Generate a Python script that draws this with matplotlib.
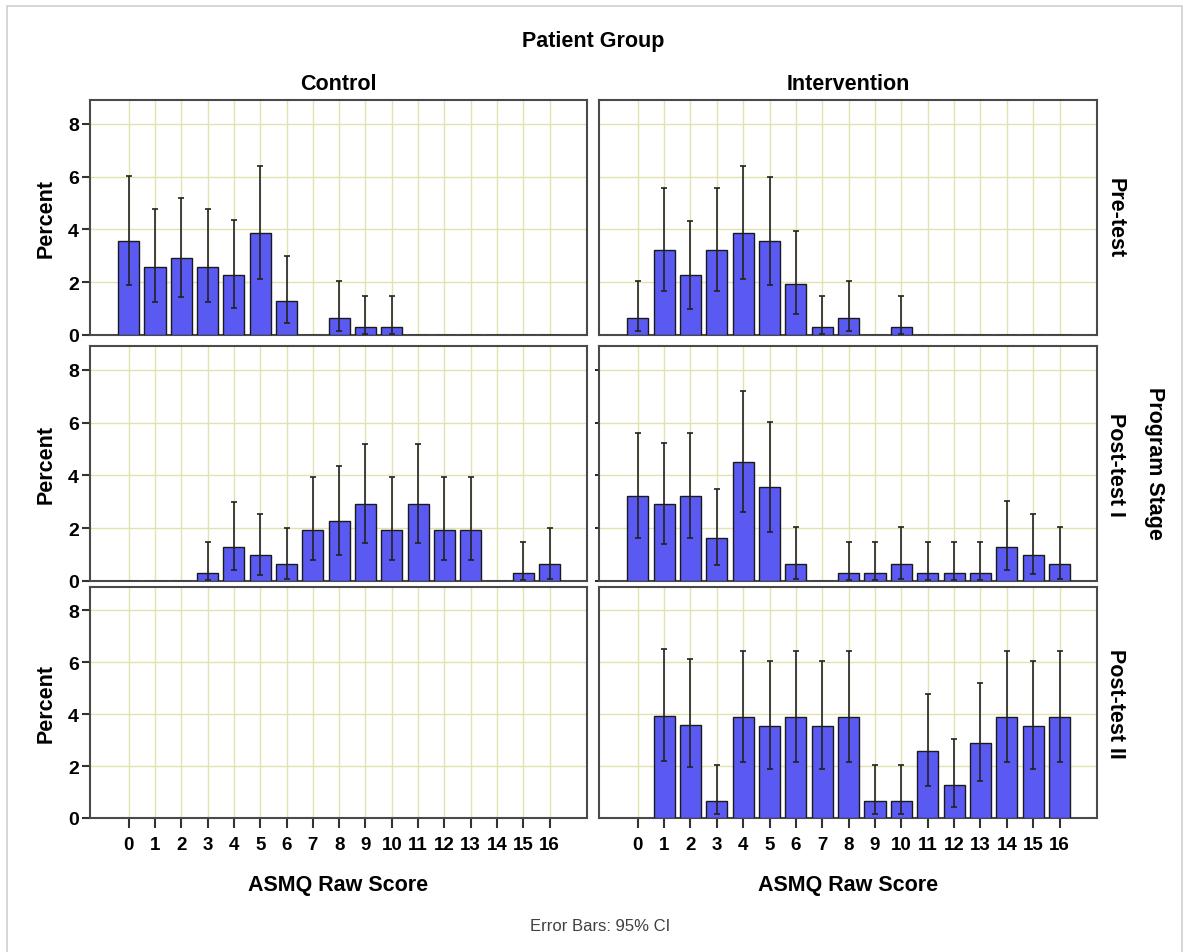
import numpy as np
import matplotlib
matplotlib.use("Agg")
import matplotlib.pyplot as plt
from matplotlib.patches import Rectangle

plt.rcParams['font.family'] = ['Liberation Sans', 'DejaVu Sans']

nan = np.nan
scores = list(range(17))

# Control group
ctrl_pre = [3.55, 2.58, 2.90, 2.58, 2.26, 3.87, 1.29, 0, 0.65, 0.32, 0.32, 0, 0, 0, 0, 0, 0]
ctrl_pre_lo = [1.90, 1.24, 1.43, 1.24, 1.01, 2.11, 0.44, nan, 0.16, 0.03, 0.03, nan, nan, nan, nan, nan, nan]
ctrl_pre_hi = [6.01, 4.78, 5.19, 4.78, 4.34, 6.39, 3.01, nan, 2.03, 1.48, 1.48, nan, nan, nan, nan, nan, nan]

ctrl_p1 = [0, 0, 0, 0.32, 1.29, 0.97, 0.65, 1.94, 2.26, 2.90, 1.94, 2.90, 1.94, 1.94, 0, 0.32, 0.65]
ctrl_p1_lo = [nan, nan, nan, 0.02, 0.40, 0.24, 0.09, 0.79, 0.98, 1.43, 0.79, 1.43, 0.79, 0.79, nan, 0.02, 0.09]
ctrl_p1_hi = [nan, nan, nan, 1.47, 2.98, 2.54, 2.00, 3.92, 4.36, 5.19, 3.92, 5.19, 3.92, 3.92, nan, 1.47, 2.00]

ctrl_p2 = [nan] * 17
ctrl_p2_lo = [nan] * 17
ctrl_p2_hi = [nan] * 17

# Intervention group
int_pre = [0.65, 3.23, 2.26, 3.23, 3.87, 3.55, 1.94, 0.32, 0.65, 0, 0.32, 0, 0, 0, 0, 0, 0]
int_pre_lo = [0.16, 1.67, 0.99, 1.67, 2.11, 1.90, 0.80, 0.03, 0.16, nan, 0.03, nan, nan, nan, nan, nan, nan]
int_pre_hi = [2.03, 5.57, 4.33, 5.57, 6.39, 5.99, 3.92, 1.46, 2.03, nan, 1.46, nan, nan, nan, nan, nan, nan]

int_p1 = [3.23, 2.90, 3.23, 1.61, 4.52, 3.55, 0.65, 0, 0.32, 0.32, 0.65, 0.32, 0.32, 0.32, 1.29, 0.97, 0.65]
int_p1_lo = [1.64, 1.42, 1.64, 0.60, 2.61, 1.84, 0.09, nan, 0.03, 0.03, 0.09, 0.03, 0.03, 0.03, 0.41, 0.28, 0.09]
int_p1_hi = [5.62, 5.22, 5.62, 3.49, 7.21, 6.04, 2.04, nan, 1.49, 1.49, 2.04, 1.49, 1.49, 1.49, 3.02, 2.54, 2.04]

int_p2 = [nan, 3.92, 3.60, 0.65, 3.89, 3.55, 3.89, 3.55, 3.89, 0.65, 0.65, 2.59, 1.29, 2.90, 3.89, 3.55, 3.89]
int_p2_lo = [nan, 2.20, 1.97, 0.17, 2.14, 1.89, 2.14, 1.89, 2.14, 0.17, 0.17, 1.22, 0.42, 1.44, 2.14, 1.89, 2.14]
int_p2_hi = [nan, 6.51, 6.11, 2.05, 6.45, 6.05, 6.45, 6.05, 6.45, 2.05, 2.05, 4.79, 3.03, 5.20, 6.45, 6.05, 6.45]

groups = ["Control", "Intervention"]
stages = ["Pre-test", "Post-test I", "Post-test II"]
panels = [
    [(ctrl_pre, ctrl_pre_lo, ctrl_pre_hi), (int_pre, int_pre_lo, int_pre_hi)],
    [(ctrl_p1, ctrl_p1_lo, ctrl_p1_hi), (int_p1, int_p1_lo, int_p1_hi)],
    [(ctrl_p2, ctrl_p2_lo, ctrl_p2_hi), (int_p2, int_p2_lo, int_p2_hi)],
]

W, H = 1190, 953
fig = plt.figure(figsize=(W / 100, H / 100), dpi=100)

# pixel boxes (left, right) and (top, bottom)
cols = [(90, 587), (599, 1097)]
rows = [(101, 336), (347, 582), (588, 819)]

bar_col = '#5a5af2'
grid_col = '#e2e2b0'
frame_col = '#4a4a4a'

for r, (top, bot) in enumerate(rows):
    for c, (left, right) in enumerate(cols):
        ax = fig.add_axes([left / W, 1 - bot / H, (right - left) / W, (bot - top) / H])
        vals, lo, hi = panels[r][c]
        vals = np.array(vals, dtype=float)
        lo = np.array(lo, dtype=float)
        hi = np.array(hi, dtype=float)
        x = np.array(scores)
        ok = ~np.isnan(vals)
        ax.bar(x[ok], vals[ok], width=0.8, color=bar_col, edgecolor='#1a1a1a',
               linewidth=1.0, zorder=3)
        eb = ~np.isnan(lo)
        ax.errorbar(x[eb], vals[eb], yerr=[vals[eb] - lo[eb], hi[eb] - vals[eb]],
                    fmt='none', ecolor='#222222', elinewidth=1.2, capsize=2.5,
                    capthick=1.2, zorder=4)
        ax.set_xlim(-1.47, 17.42)
        ax.set_ylim(0, 8.9)
        ax.set_xticks(scores)
        ax.set_yticks([0, 2, 4, 6, 8])
        ax.grid(True, color=grid_col, linewidth=1.0, zorder=0)
        ax.set_axisbelow(True)
        for sp in ax.spines.values():
            sp.set_color(frame_col)
            sp.set_linewidth(1.5)

        if r == 2:
            ax.tick_params(axis='x', length=7, width=1.5, color='#333333',
                           labelsize=13.5, pad=6)
            for t in ax.get_xticklabels():
                t.set_fontweight('bold')
            ax.set_xlabel("ASMQ Raw Score", fontsize=15.5, fontweight='bold', labelpad=15)
        else:
            ax.tick_params(axis='x', length=0, labelbottom=False)

        if c == 0:
            ax.tick_params(axis='y', length=6, width=1.5, color='#333333',
                           labelsize=14, pad=2)
            for t in ax.get_yticklabels():
                t.set_fontweight('bold')
            ax.set_ylabel("Percent", fontsize=15.5, fontweight='bold', labelpad=8)
        else:
            if r == 1:
                ax.tick_params(axis='y', length=3, width=1.2, labelleft=False)
            else:
                ax.tick_params(axis='y', length=0, labelleft=False)

        if r == 0:
            ax.set_title(groups[c], fontsize=15.5, fontweight='bold', pad=8)
        if c == 1:
            ax.text(1.037, 0.5, stages[r], transform=ax.transAxes, rotation=270,
                    ha='center', va='center', fontsize=15.5, fontweight='bold')

fig.text(593 / W, 1 - 42 / H, "Patient Group", ha='center', va='center',
         fontsize=15.5, fontweight='bold')
fig.text(1155 / W, 1 - 463 / H, "Program Stage", ha='center', va='center',
         rotation=270, fontsize=15.5, fontweight='bold')
fig.text(600 / W, 1 - 927 / H, "Error Bars: 95% CI", ha='center', va='center',
         fontsize=12, color='#404040')

fig.patches.append(Rectangle((7 / W, -0.05), (1182 - 7) / W, 1.05 - 7 / H,
                             transform=fig.transFigure, fill=False,
                             edgecolor='#d0d0d0', linewidth=1.2))

fig.savefig("out.png", dpi=100)
